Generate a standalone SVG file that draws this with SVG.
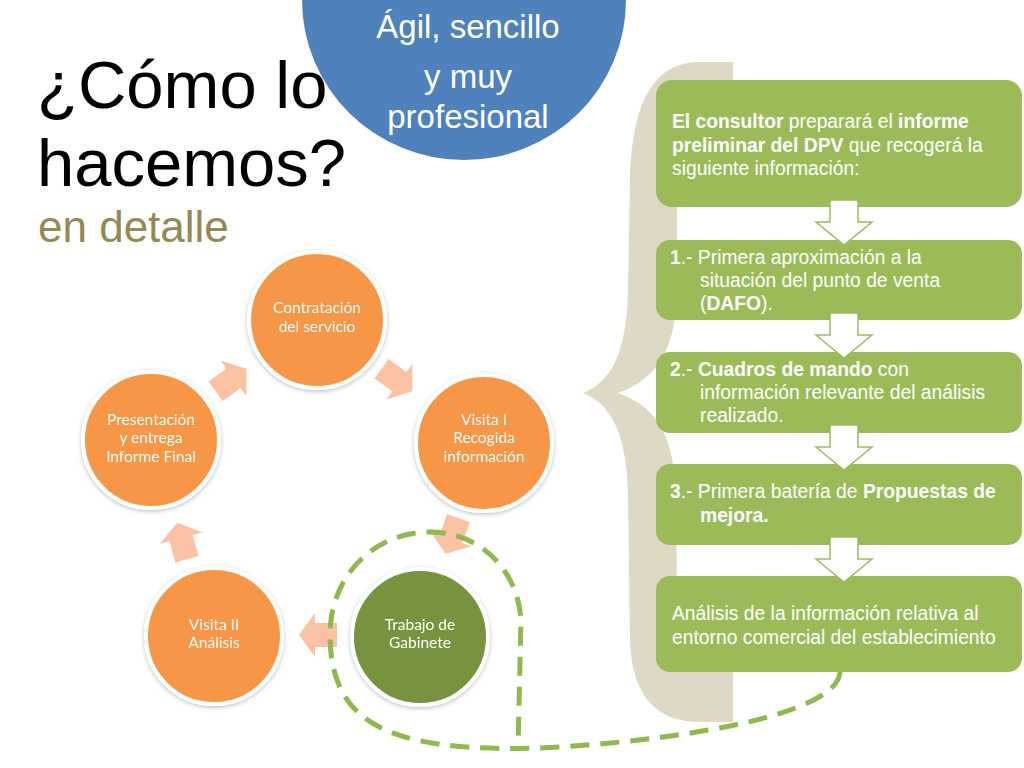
<svg xmlns="http://www.w3.org/2000/svg" width="1024" height="768" viewBox="0 0 1024 768">
<style>
.title{font-family:"Liberation Sans",Arial,sans-serif;fill:#000;font-size:67px}
.sub{font-family:"Liberation Sans",Arial,sans-serif;fill:#938953;font-size:44px}
.blue{font-family:"Liberation Sans",Arial,sans-serif;fill:#fff;font-size:33px;text-anchor:middle}
.box{fill:#9bbb59}
.bt{font-family:"Liberation Sans",Arial,sans-serif;fill:#fff;font-size:19.3px}
.b{font-weight:bold}
.circ{stroke:#fff;stroke-width:4}
.org{fill:#f79646}
.grn{fill:#77933c}
.ct{font-family:Lato,"Open Sans",sans-serif;fill:#fff;font-size:15.5px;text-anchor:middle}
.parr{fill:#fac2a2}
.darr{fill:#fff;stroke:#9bbb59;stroke-width:1.5}
.dash{fill:none;stroke:#8fb84f;stroke-width:5;stroke-dasharray:19 11}
</style>
<defs>
<filter id="sh" x="-20%" y="-20%" width="140%" height="140%">
<feDropShadow dx="0" dy="1.5" stdDeviation="2" flood-color="#000" flood-opacity="0.25"/>
</filter>
<polygon id="pa" points="-19,-12 3,-12 3,-22 19,0 3,22 3,12 -19,12"/>
<polygon id="da" points="-14,0 14,0 14,22 28,22 0,45 -28,22 -14,22"/>
</defs>
<rect width="1024" height="768" fill="#fff"/>

<g id="bubble">
<ellipse cx="464" cy="0" rx="162" ry="160" fill="#4f81bd"/>
<text class="blue" x="468" y="38">Ágil, sencillo</text>
<text class="blue" x="468" y="88">y muy</text>
<text class="blue" x="468" y="128">profesional</text>
</g>

<g id="title">
<text class="title" x="37" y="108">¿Cómo lo</text>
<text class="title" x="37" y="186">hacemos?</text>
<text class="sub" x="38" y="242">en detalle</text>
</g>

<g id="brace">
<path fill="#ddd9c4" d="M733 62 L700 62 C655 62 632 100 630 180 L628 290 C627 350 612 382 583 393 C612 404 627 436 628 495 L630 640 C632 700 660 722 700 722 L733 722 L733 660 C700 650 677 630 677 590 L676 500 C675 440 660 408 618 393 C660 378 676 346 677 290 L677 170 C677 120 700 105 733 100 Z"/>
</g>

<g id="box0">
<rect class="box" x="656" y="80" width="366" height="127" rx="16"/>
<text class="bt" x="672" y="128"><tspan class="b">El consultor</tspan> preparará el <tspan class="b">informe</tspan></text>
<text class="bt" x="672" y="152"><tspan class="b">preliminar del DPV</tspan> que recogerá  la</text>
<text class="bt" x="672" y="175">siguiente información:</text>
</g>
<g id="box1">
<rect class="box" x="656" y="240" width="366" height="80" rx="14"/>
<text class="bt" x="670" y="264"><tspan class="b">1</tspan>.- Primera aproximación a la</text>
<text class="bt" x="700" y="287">situación del punto de venta</text>
<text class="bt" x="700" y="310">(<tspan class="b">DAFO</tspan>).</text>
</g>
<g id="box2">
<rect class="box" x="656" y="352" width="366" height="81" rx="14"/>
<text class="bt" x="670" y="376"><tspan class="b">2</tspan>.- <tspan class="b">Cuadros de mando</tspan> con</text>
<text class="bt" x="700" y="399">información relevante del análisis</text>
<text class="bt" x="700" y="422">realizado.</text>
</g>
<g id="box3">
<rect class="box" x="656" y="464" width="366" height="81" rx="14"/>
<text class="bt" x="670" y="498"><tspan class="b">3</tspan>.- Primera batería de <tspan class="b">Propuestas de</tspan></text>
<text class="bt" x="700" y="522"><tspan class="b">mejora.</tspan></text>
</g>
<g id="box4">
<rect class="box" x="656" y="576" width="366" height="96" rx="14"/>
<text class="bt" x="672" y="620">Análisis de la información relativa al</text>
<text class="bt" x="672" y="644">entorno comercial del establecimiento</text>
</g>

<g id="flow-arrows">
<use href="#da" class="darr" x="844" y="200"/>
<use href="#da" class="darr" x="844" y="313"/>
<use href="#da" class="darr" x="844" y="425"/>
<use href="#da" class="darr" x="844" y="537"/>
</g>

<g id="n-contratacion" filter="url(#sh)">
<circle class="circ org" cx="317" cy="320" r="68"/>
<text class="ct" x="317" y="313">Contratación</text>
<text class="ct" x="317" y="332">del servicio</text>
</g>
<g id="n-visita1" filter="url(#sh)">
<circle class="circ org" cx="484" cy="443" r="68"/>
<text class="ct" x="484" y="425">Visita I</text>
<text class="ct" x="484" y="443">Recogida</text>
<text class="ct" x="484" y="462">información</text>
</g>
<g id="n-presentacion" filter="url(#sh)">
<circle class="circ org" cx="151" cy="440" r="68"/>
<text class="ct" x="151" y="425">Presentación</text>
<text class="ct" x="151" y="443">y entrega</text>
<text class="ct" x="151" y="462">Informe Final</text>
</g>
<g id="n-visita2" filter="url(#sh)">
<circle class="circ org" cx="214" cy="636" r="68"/>
<text class="ct" x="214" y="630">Visita II</text>
<text class="ct" x="214" y="648">Análisis</text>
</g>
<g id="n-gabinete" filter="url(#sh)">
<circle class="circ grn" cx="420" cy="637" r="68"/>
<text class="ct" x="420" y="630">Trabajo de</text>
<text class="ct" x="420" y="648">Gabinete</text>
</g>

<g id="connectors">
<use href="#pa" class="parr" transform="translate(231 380) rotate(-36)"/>
<use href="#pa" class="parr" transform="translate(397 380) rotate(36)"/>
<use href="#pa" class="parr" transform="translate(452 536) rotate(110)"/>
<use href="#pa" class="parr" transform="translate(318 635) rotate(180)"/>
<use href="#pa" class="parr" transform="translate(182 541) rotate(-105)"/>
<path class="dash" d="M840 672 C838 712 700 738 560 747 C470 752 400 745 365 718 C340 700 330 670 330 635 C330 575 375 532 430 532 C480 532 518 570 521 620 L518 748"/>
</g>
</svg>
